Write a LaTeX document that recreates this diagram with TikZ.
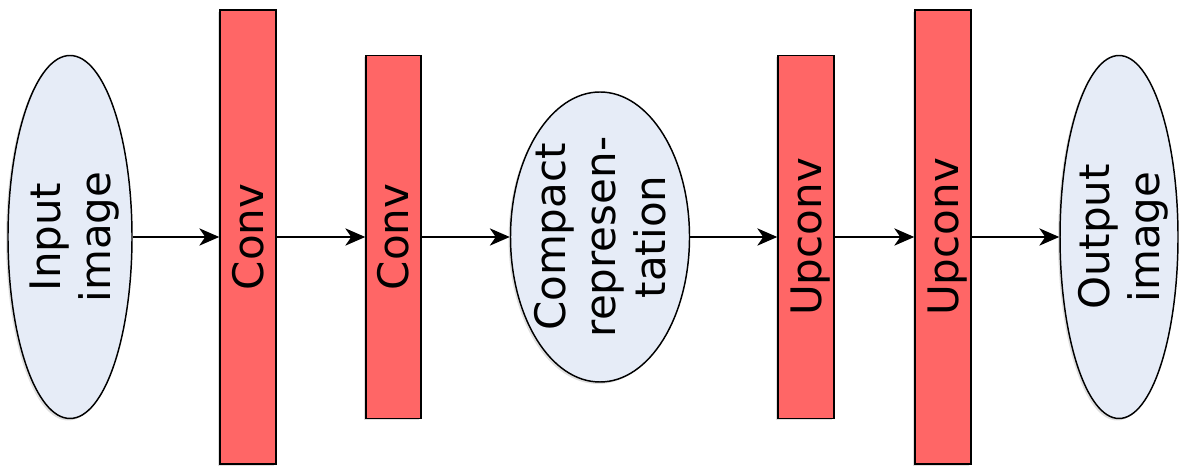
\documentclass[tikz,border=0pt]{standalone}
\usepackage{fontspec}
\setmainfont{DejaVu Sans}
\usepackage{tikz}
\usetikzlibrary{shapes.geometric,shadows,arrows.meta}
\definecolor{convred}{HTML}{FF6666}
\definecolor{blobblue}{HTML}{E6ECF7}
\newcommand{\blockfont}{\fontsize{31.5}{37.5}\selectfont}

\begin{document}
\begin{tikzpicture}[x=0.75pt, y=0.75pt,
        layer/.style={draw, line width=1.1pt, fill=convred, rotate=90, inner sep=0pt,
            text height=23pt, text depth=0pt, font=\blockfont,
            drop shadow={shadow xshift=-1.5pt, shadow yshift=-1.5pt, opacity=0.25}},
        blob/.style={layer, ellipse, fill=blobblue, align=center, text height=60.5pt},
        arr/.style={line width=1.1pt, -{Stealth[length=15pt, width=13pt, inset=4.5pt]}}]
        \useasboundingbox (0,0) rectangle (1181,467);

        \node [blob, minimum width=272.25pt, minimum height=93pt] (in) at (70, 230) {Input\\image};
        \node [layer, minimum width=340.5pt, minimum height=42pt] (conv1) at (248, 230) {Conv};
        \node [layer, minimum width=272.25pt, minimum height=41.25pt] (conv2) at (393.5, 230) {Conv};
        \node [blob, text height=98pt, inner ysep=-2pt, minimum width=217.5pt, minimum height=134.25pt] (code) at (600, 230) {Compact\\represen-\\tation};
        \node [layer, minimum width=272.25pt, minimum height=42pt] (up1) at (806, 230) {Upconv};
        \node [layer, minimum width=340.5pt, minimum height=42pt] (up2) at (943, 230) {Upconv};
        \node [blob, minimum width=272.25pt, minimum height=88.5pt] (out) at (1119, 230) {Output\\image};

        \foreach \a/\b in {in/conv1, conv1/conv2, conv2/code, code/up1, up1/up2, up2/out} {
            \draw [arr] (\a) -- (\b);
            };
    \end{tikzpicture}
\end{document}
